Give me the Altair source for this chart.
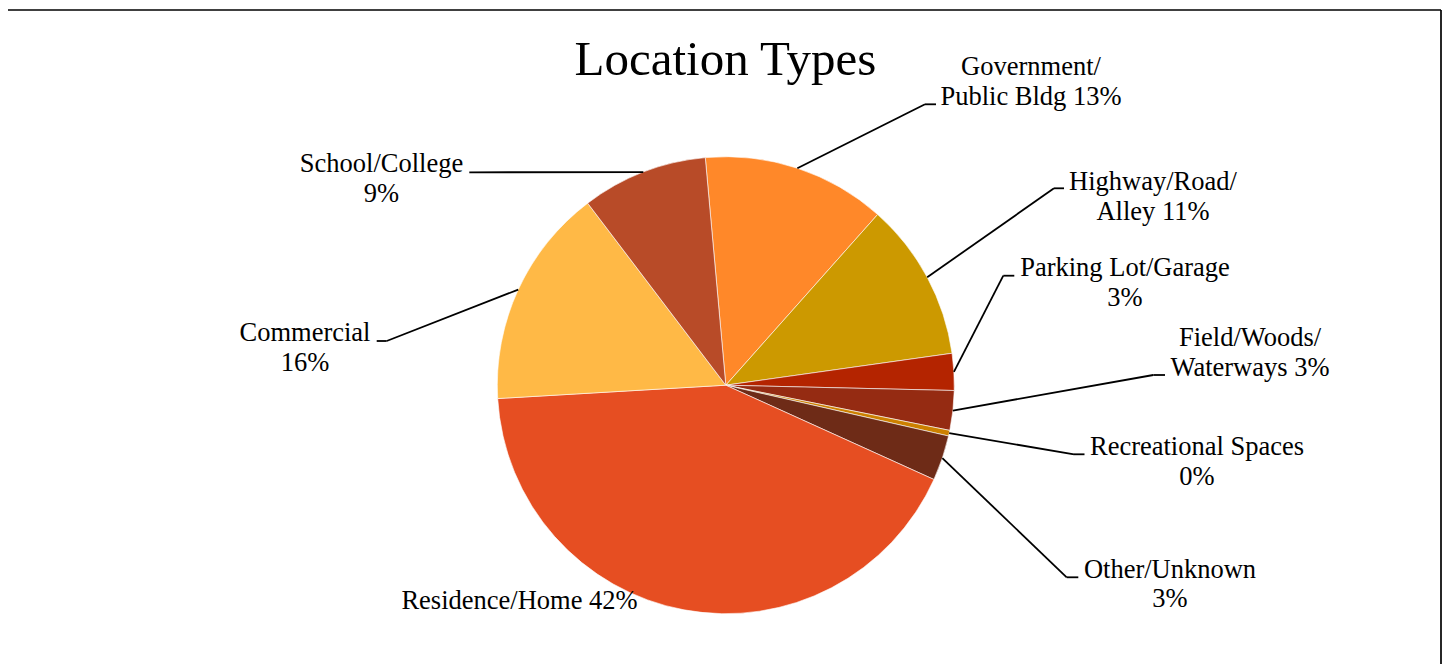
import math
import altair as alt
import pandas as pd

# ---------------- data ----------------
categories = ["Government/Public Bldg", "Highway/Road/Alley", "Parking Lot/Garage",
              "Field/Woods/Waterways", "Recreational Spaces", "Other/Unknown",
              "Residence/Home", "Commercial", "School/College"]
values = [13.0, 11.2, 2.6, 2.8, 0.4, 3.2, 42.3, 15.6, 8.9]
label_names = [["Government/", "Public Bldg"], ["Highway/Road/", "Alley"],
               ["Parking Lot/Garage", ""], ["Field/Woods/", "Waterways"],
               ["Recreational Spaces", ""], ["Other/Unknown", ""],
               ["Residence/Home"], ["Commercial", ""], ["School/College", ""]]
colors = ["#FF8829", "#CC9900", "#B42400", "#952B12", "#CC8000",
          "#6E2B17", "#E64E22", "#FFB946", "#B84B28"]
title_text = "Location Types"

# ---------------- layout (pixels within the view) ----------------
OX, OY = 8, 10                      # view origin on the page
W, H = 1434, 654
CX, CY, R = 725.8 - OX, 385.2 - OY, 228.5
START_DEG = -5.15
LINE_H = 29.5
FONT = "Liberation Serif"
# text centre x, first baseline y, leader bend x, bend y, leader end x (page coords)
label_layout = [
    (1031, 75, 925, 104.3, 936),
    (1153, 190, 1054, 188.3, 1064),
    (1125, 276, 1003.3, 275.7, 1014.3),
    (1250, 346, 1153.3, 375, 1165),
    (1197, 455, 1074, 454.3, 1084.5),
    (1170, 577.5, 1066.7, 577.3, 1078.3),
    (519.5, 608.5, None, None, None),
    (305, 341, 386.7, 341, 376.7),
    (381.5, 172.3, 469.3, 172.3, 469.3),
]

total = sum(values)
start = math.radians(START_DEG)

pie_df = pd.DataFrame({"category": categories, "value": values,
                       "idx": list(range(len(values)))})

# label lines & leader segments
text_rows, seg_rows = [], []
cum = 0.0
for i, (cat, v) in enumerate(zip(categories, values)):
    mid = start + 2 * math.pi * (cum + v / 2) / total
    cum += v
    pct = f"{round(v)}%"
    names = label_names[i]
    if len(names) == 1:
        lines = [names[0] + " " + pct]
    elif names[1] == "":
        lines = [names[0], pct]
    else:
        lines = [names[0], names[1] + " " + pct]
    tx, ty, bx, by, ex = label_layout[i]
    for j, ln in enumerate(lines):
        text_rows.append({"x": tx - OX, "y": ty - OY + j * LINE_H, "t": ln})
    if bx is not None:
        px = CX + R * math.sin(mid)
        py = CY - R * math.cos(mid)
        seg_rows.append({"x": px, "y": py, "x2": bx - OX, "y2": by - OY})
        seg_rows.append({"x": bx - OX, "y": by - OY, "x2": ex - OX, "y2": by - OY})

text_df = pd.DataFrame(text_rows)
seg_df = pd.DataFrame(seg_rows)

pie = alt.Chart(pie_df).mark_arc(outerRadius=R, stroke="white", strokeWidth=0.6).encode(
    theta=alt.Theta("value:Q", stack=True,
                    scale=alt.Scale(domain=[0, total], range=[start, start + 2 * math.pi])),
    order=alt.Order("idx:Q"),
    color=alt.Color("category:N", scale=alt.Scale(domain=categories, range=colors), legend=None),
    x=alt.value(CX), y=alt.value(CY),
)

leaders = alt.Chart(seg_df).mark_rule(color="black", strokeWidth=1.8).encode(
    x=alt.X("x:Q", scale=None, axis=None), y=alt.Y("y:Q", scale=None, axis=None),
    x2="x2:Q", y2="y2:Q",
)

labels = alt.Chart(text_df).mark_text(align="center", baseline="alphabetic", font=FONT,
                                      fontSize=26.5, color="black").encode(
    x=alt.X("x:Q", scale=None, axis=None), y=alt.Y("y:Q", scale=None, axis=None), text="t:N",
)

title = alt.Chart(pd.DataFrame({"t": [title_text]})).mark_text(
    align="center", baseline="alphabetic", font=FONT, fontSize=49, color="black").encode(
    x=alt.value(725.5 - OX), y=alt.value(75 - OY), text="t:N")

border_top = alt.Chart(pd.DataFrame({"a": [0]})).mark_rule(color="black", strokeWidth=1.7).encode(
    x=alt.value(0), x2=alt.value(1433), y=alt.value(0), y2=alt.value(0))
border_left = alt.Chart(pd.DataFrame({"a": [0]})).mark_rule(color="black", strokeWidth=1.7).encode(
    x=alt.value(-1), x2=alt.value(-1), y=alt.value(0), y2=alt.value(H))
border_right = alt.Chart(pd.DataFrame({"a": [0]})).mark_rule(color="black", strokeWidth=1.7).encode(
    x=alt.value(1433), x2=alt.value(1433), y=alt.value(0), y2=alt.value(H))

chart = alt.layer(pie, leaders, labels, title, border_top, border_left, border_right).properties(
    width=W, height=H,
    padding={"left": 0, "top": 2, "right": 0, "bottom": 0},
    autosize=alt.AutoSizeParams(type="none"),
).configure_view(stroke=None)

chart.save("out.html", embed_options={"renderer": "svg", "actions": False})
